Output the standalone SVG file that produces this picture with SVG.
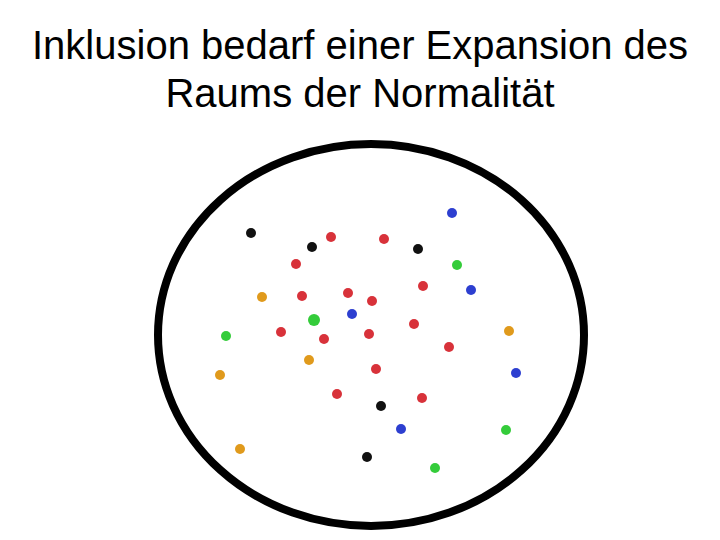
<svg xmlns="http://www.w3.org/2000/svg" width="720" height="540" viewBox="0 0 720 540">
<style>
.t{font-family:"Liberation Sans",Arial,sans-serif;font-size:40px;fill:#000;text-anchor:middle}
.k{fill:#111}.r{fill:#d8323a}.b{fill:#2d3fd0}.g{fill:#34cc3a}.o{fill:#e09a1c}
</style>
<rect width="720" height="540" fill="#fff"/>
<text class="t" x="360" y="59">Inklusion bedarf einer Expansion des</text>
<text class="t" x="360" y="107">Raums der Normalität</text>
<ellipse cx="371" cy="335" rx="213" ry="191" fill="none" stroke="#000" stroke-width="8"/>
<g id="black" class="k">
<circle cx="251" cy="233" r="5"/><circle cx="312" cy="247" r="5"/><circle cx="418" cy="249" r="5"/><circle cx="381" cy="406" r="5"/><circle cx="367" cy="457" r="5"/>
</g>
<g id="red" class="r">
<circle cx="331" cy="237" r="5"/><circle cx="384" cy="239" r="5"/><circle cx="296" cy="264" r="5"/><circle cx="423" cy="286" r="5"/><circle cx="302" cy="296" r="5"/><circle cx="348" cy="293" r="5"/><circle cx="372" cy="301" r="5"/><circle cx="281" cy="332" r="5"/><circle cx="324" cy="339" r="5"/><circle cx="369" cy="334" r="5"/><circle cx="414" cy="324" r="5"/><circle cx="449" cy="347" r="5"/><circle cx="376" cy="369" r="5"/><circle cx="337" cy="394" r="5"/><circle cx="422" cy="398" r="5"/>
</g>
<g id="blue" class="b">
<circle cx="452" cy="213" r="5"/><circle cx="471" cy="290" r="5"/><circle cx="352" cy="314" r="5"/><circle cx="516" cy="373" r="5"/><circle cx="401" cy="429" r="5"/>
</g>
<g id="green" class="g">
<circle cx="457" cy="265" r="5"/><circle cx="314" cy="320" r="6"/><circle cx="226" cy="336" r="5"/><circle cx="506" cy="430" r="5"/><circle cx="435" cy="468" r="5"/>
</g>
<g id="orange" class="o">
<circle cx="262" cy="297" r="5"/><circle cx="509" cy="331" r="5"/><circle cx="309" cy="360" r="5"/><circle cx="220" cy="375" r="5"/><circle cx="240" cy="449" r="5"/>
</g>
</svg>
